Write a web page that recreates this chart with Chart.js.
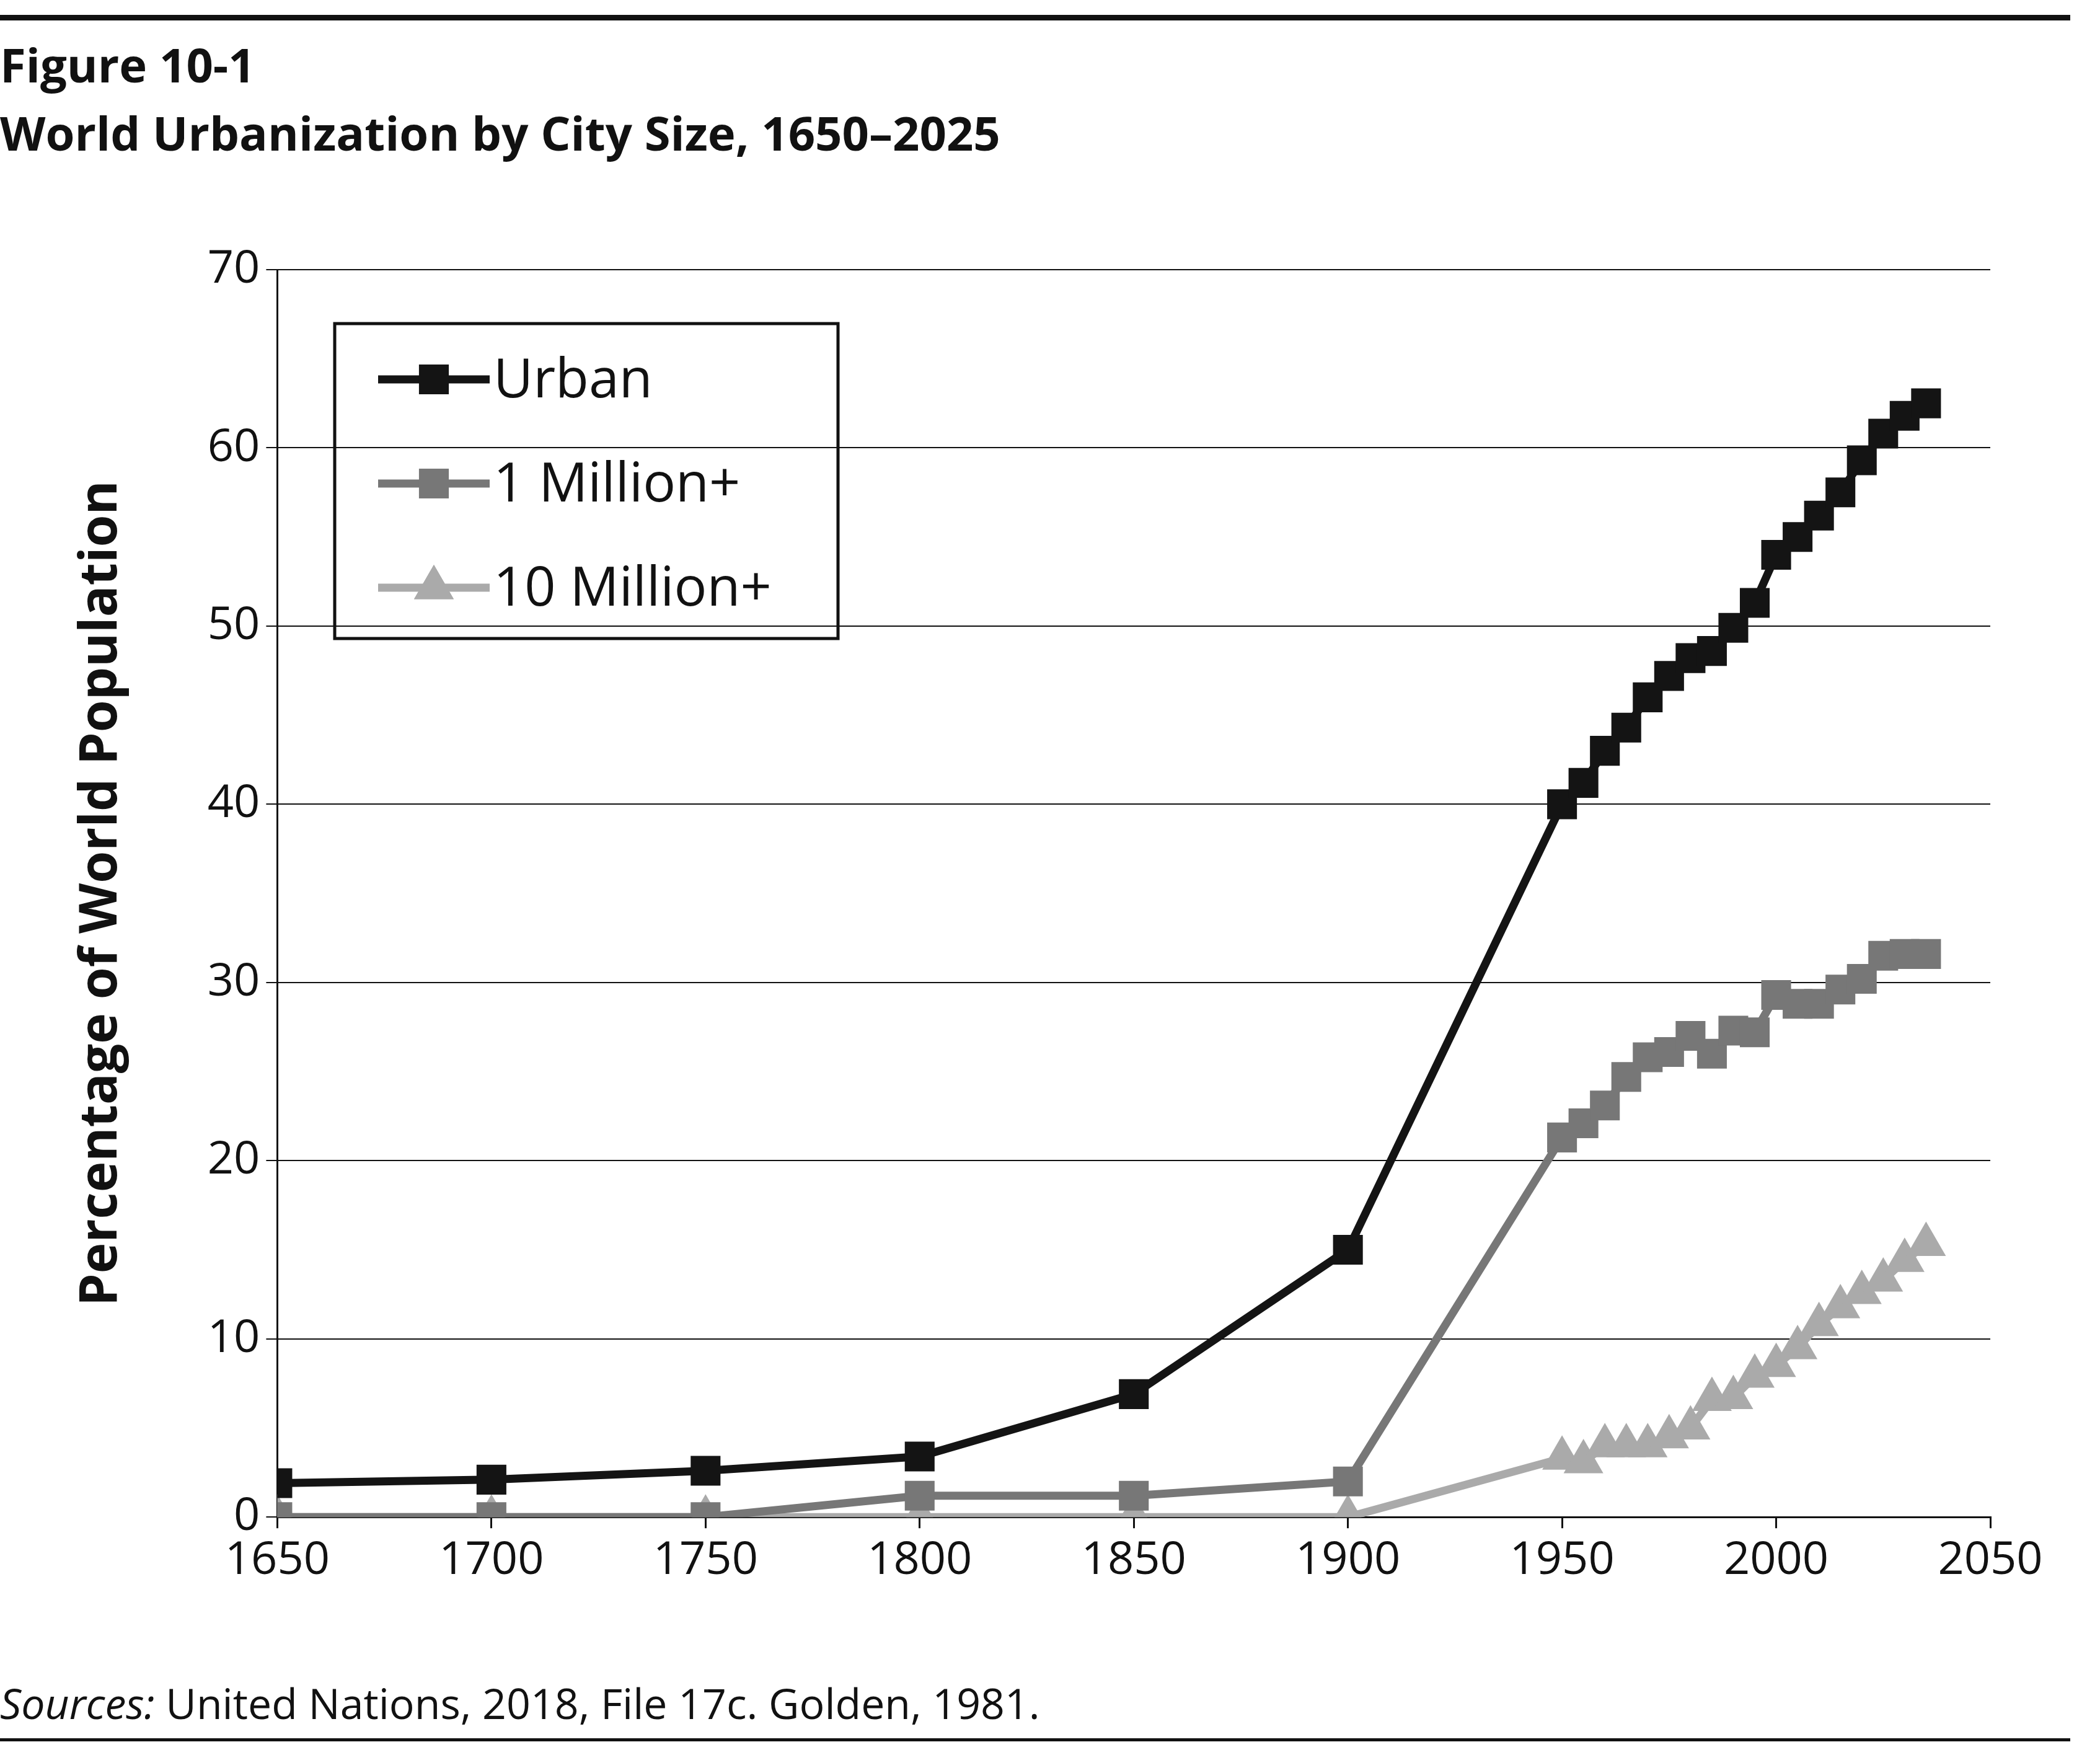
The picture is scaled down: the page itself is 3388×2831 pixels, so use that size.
<!DOCTYPE html>
<html><head><meta charset="utf-8">
<script src="https://cdn.jsdelivr.net/npm/chart.js@4"></script>
<style>
html,body{margin:0;padding:0;background:#fff;}
#wrap{position:relative;width:3388px;height:2831px;font-family:"Open Sans","Noto Sans",sans-serif;color:#111;}
.rule{position:absolute;left:0;width:3340px;background:#111;}
.t{position:absolute;left:0;font-weight:bold;font-size:76px;white-space:nowrap;}
#src{position:absolute;left:0;top:2700px;font-size:68px;}
canvas{position:absolute;left:0;top:0;}
</style></head><body>
<div id="wrap">
<div class="rule" style="top:24px;height:9px"></div>
<div class="t" style="top:52px">Figure 10-1</div>
<div class="t" style="top:162px">World Urbanization by City Size, 1650–2025</div>
<div id="src"><i>Sources:</i> United Nations, 2018, File 17c. Golden, 1981.</div>
<div class="rule" style="top:2804px;height:5px"></div>
<canvas id="c" width="3388" height="2831"></canvas>
</div>
<script>
const years=[1650,1700,1750,1800,1850,1900,1950,1955,1960,1965,1970,1975,1980,1985,1990,1995,2000,2005,2010,2015,2020,2025,2030,2035];
const urban=[1.9,2.1,2.6,3.4,6.9,15,40,41.2,43,44.3,46,47.2,48.2,48.6,49.9,51.3,54,55,56.2,57.5,59.3,60.8,61.8,62.5];
const million1=[0,0,0,1.2,1.2,2,21.3,22.1,23.1,24.7,25.8,26.1,27,26,27.3,27.2,29.3,28.8,28.8,29.6,30.2,31.5,31.6,31.6];
const million10=[0,0,0,0,0,0,3.3,3.1,4,4,4,4.5,5,6.6,6.7,7.9,8.5,9.5,10.8,11.8,12.6,13.3,14.4,15.3];
const xTicks=[1650,1700,1750,1800,1850,1900,1950,2000,2050];
const labels=["Urban","1 Million+","10 Million+"];
const F='"Open Sans","Noto Sans",sans-serif';
function ds(label,vals,color,style,r){return{label,data:years.map((y,i)=>({x:y,y:vals[i]})),borderColor:color,backgroundColor:color,borderWidth:13,pointStyle:style,pointRadius:r,pointHoverRadius:r,pointBorderWidth:0,tension:0};}
const legendPlugin={id:'lg',afterDraw(ch){const c=ch.ctx;c.save();
 c.strokeStyle='#111';c.lineWidth=5;c.strokeRect(540,522,812,508);
 ch.data.datasets.forEach((d,i)=>{const y=612+i*168;c.strokeStyle=d.borderColor;c.lineWidth=13;c.beginPath();c.moveTo(610,y);c.lineTo(790,y);c.stroke();
  c.fillStyle=d.backgroundColor;Chart.helpers.drawPoint(c,{pointStyle:d.pointStyle,radius:d.pointRadius,borderWidth:0},700,y);c.fill();
  c.fillStyle='#111';c.font='88px '+F;c.textBaseline='middle';c.textAlign='left';c.fillText(d.label,796,y+4);});
 c.restore();}};
new Chart(document.getElementById('c'),{type:'line',
data:{datasets:[ds(labels[0],urban,'#141414','rect',34),ds(labels[1],million1,'#777777','rect',34),ds(labels[2],million10,'#aaaaaa','triangle',37)]},
options:{responsive:false,animation:false,devicePixelRatio:1,
layout:{padding:{left:110,top:435,right:177,bottom:261}},
plugins:{legend:{display:false},tooltip:{enabled:false}},
scales:{
 x:{type:'linear',min:1650,max:2050,afterBuildTicks:a=>{a.ticks=xTicks.map(v=>({value:v}));},
  ticks:{font:{size:74,family:F},color:'#111',padding:8,maxRotation:0,callback:v=>String(v)},
  grid:{drawOnChartArea:false,color:'#111',lineWidth:3,tickLength:18},border:{color:'#111',width:3}},
 y:{min:0,max:70,ticks:{stepSize:10,font:{size:74,family:F},color:'#111',padding:10},
  grid:{color:'#111',lineWidth:2,tickLength:18},border:{color:'#111',width:3},
  title:{display:true,text:'Percentage of World Population',font:{size:84,weight:'bold',family:F},color:'#111',padding:{bottom:110}}}
}},plugins:[legendPlugin]});
</script>
</body></html>
